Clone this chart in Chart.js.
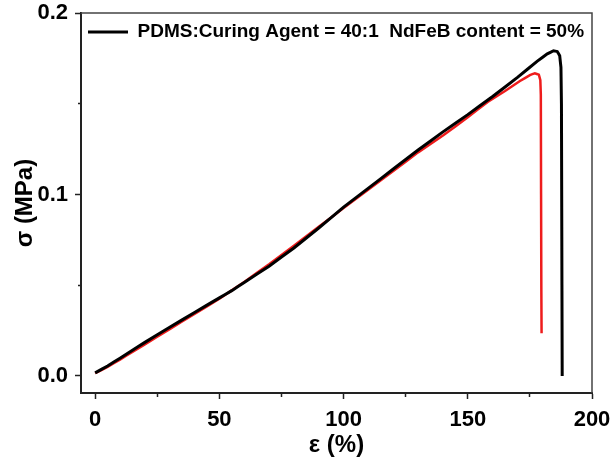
<!DOCTYPE html>
<html>
<head>
<meta charset="utf-8">
<script src="https://cdn.jsdelivr.net/npm/chart.js@4/dist/chart.umd.min.js"></script>
<style>
  html, body { margin: 0; padding: 0; background: #fff; }
  #wrap { width: 611px; height: 459px; }
</style>
</head>
<body>
<div id="wrap"><canvas id="c" width="611" height="459"></canvas></div>
<script>
// ---- data ----
const legendLabel = 'PDMS:Curing Agent = 40:1  NdFeB content = 50%';
const xTitle = 'ε (%)';
const yTitle = 'σ (MPa)';

const blackStrain = [0, 5, 10, 15, 20, 30, 40, 50, 55, 60, 70, 80, 90, 100, 110, 120, 130, 140, 150, 160, 170, 178, 182, 184.5, 186, 187, 187.5, 187.7, 187.8, 187.9, 188];
const blackStress = [0.0017, 0.0055, 0.0098, 0.0142, 0.0185, 0.0268, 0.0350, 0.0430, 0.0470, 0.0515, 0.0605, 0.0705, 0.0815, 0.0930, 0.1035, 0.1140, 0.1245, 0.1345, 0.1440, 0.1540, 0.1645, 0.1735, 0.1775, 0.1792, 0.1788, 0.1765, 0.1700, 0.1500, 0.1000, 0.0500, 0.0000];

const redStrain = [0, 5, 10, 15, 20, 30, 40, 50, 60, 70, 80, 90, 100, 110, 120, 130, 140, 150, 158, 165, 171, 175, 177, 178.6, 179.2, 179.4, 179.5, 179.6, 179.7];
const redStress = [0.0015, 0.0050, 0.0090, 0.0132, 0.0174, 0.0258, 0.0342, 0.0425, 0.0518, 0.0615, 0.0718, 0.0822, 0.0925, 0.1028, 0.1130, 0.1232, 0.1325, 0.1425, 0.1510, 0.1570, 0.1625, 0.1658, 0.1668, 0.1660, 0.1630, 0.1550, 0.1000, 0.0500, 0.0235];

const xMajorTicks = [0, 50, 100, 150, 200];
const xMinorTicks = [25, 75, 125, 175];
const yMajorTicks = [0, 0.1, 0.2];
const yMinorTicks = [0.05, 0.15];
const yTickLabels = ['0.0', '0.1', '0.2'];

// ---- build ----
const toPts = (xs, ys) => xs.map((x, i) => ({ x: x, y: ys[i] }));
const allX = xMajorTicks.concat(xMinorTicks).sort((a, b) => a - b);
const allY = yMajorTicks.concat(yMinorTicks).sort((a, b) => a - b);
const isMajor = (arr, v) => arr.some(t => Math.abs(t - v) < 1e-9);

const boxPlugin = {
  id: 'box',
  afterDraw(chart) {
    const a = chart.chartArea, ctx = chart.ctx;
    ctx.save();
    ctx.strokeStyle = '#444';
    ctx.lineWidth = 1.5;
    ctx.beginPath();
    ctx.moveTo(a.left, a.top);
    ctx.lineTo(a.right, a.top);
    ctx.lineTo(a.right, a.bottom);
    ctx.stroke();
    ctx.restore();
  }
};

const fam = '"Liberation Sans", Arial, sans-serif';
const tickFont = { family: fam, size: 22, weight: 'bold' };
const titleFont = { family: fam, size: 24, weight: 'bold' };
const noAutoPad = (s) => { s.paddingTop = 0; s.paddingBottom = 0; s.paddingLeft = 0; s.paddingRight = 0; };

new Chart(document.getElementById('c'), {
  type: 'scatter',
  data: {
    datasets: [
      { label: legendLabel, data: toPts(blackStrain, blackStress), showLine: true,
        borderColor: '#000', backgroundColor: '#000', borderWidth: 3, pointRadius: 0, tension: 0.001 },
      { label: 'sample 2', data: toPts(redStrain, redStress), showLine: true,
        borderColor: '#ee1c1c', backgroundColor: '#ee1c1c', borderWidth: 2.5, pointRadius: 0, tension: 0.001 }
    ]
  },
  options: {
    responsive: false,
    animation: false,
    events: [],
    layout: { padding: { left: 0, right: 19, top: 13, bottom: 0 } },
    plugins: {
      tooltip: { enabled: false },
      legend: {
        position: 'chartArea',
        align: 'start',
        title: { display: true, text: '', font: { family: fam, size: 10, lineHeight: 1 }, padding: { top: 5.5, bottom: 0 } },
        labels: {
          filter: (item) => item.datasetIndex === 0,
          usePointStyle: true,
          pointStyle: 'line',
          pointStyleWidth: 40,
          padding: 7,
          color: '#000',
          font: { family: fam, size: 19, weight: 'bold' }
        }
      }
    },
    scales: {
      x: {
        type: 'linear',
        min: -5.7, max: 200,
        afterBuildTicks: (s) => { s.ticks = allX.map(v => ({ value: v })); },
        afterFit: (s) => { s.height = 66; noAutoPad(s); },
        border: { display: true, color: '#222', width: 2 },
        grid: {
          drawOnChartArea: false, drawTicks: true, tickLength: 6,
          tickColor: '#222', tickWidth: 1.5,
          tickBorderDash: (ctx) => isMajor(xMajorTicks, ctx.tick.value) ? [] : [3, 20]
        },
        ticks: {
          color: '#000', font: tickFont, padding: 8, maxRotation: 0, autoSkip: false,
          callback: (v) => isMajor(xMajorTicks, v) ? String(v) : ''
        },
        title: { display: true, text: xTitle, color: '#000', font: titleFont, padding: { top: 0, bottom: -1 } }
      },
      y: {
        type: 'linear',
        min: -0.0094, max: 0.2,
        afterBuildTicks: (s) => { s.ticks = allY.map(v => ({ value: v })); },
        afterFit: (s) => { s.width = 81; noAutoPad(s); },
        border: { display: true, color: '#222', width: 2 },
        grid: {
          drawOnChartArea: false, drawTicks: true, tickLength: 6,
          tickColor: '#222', tickWidth: 1.5,
          tickBorderDash: (ctx) => isMajor(yMajorTicks, ctx.tick.value) ? [] : [3, 3],
          tickBorderDashOffset: (ctx) => isMajor(yMajorTicks, ctx.tick.value) ? 0 : 3
        },
        ticks: {
          color: '#000', font: tickFont, padding: 7, autoSkip: false,
          callback: (v) => { const i = yMajorTicks.findIndex(t => Math.abs(t - v) < 1e-9); return i >= 0 ? yTickLabels[i] : ''; }
        },
        title: { display: true, text: yTitle, color: '#000', font: titleFont, padding: { top: 10.5, bottom: 0 } }
      }
    }
  },
  plugins: [boxPlugin]
});
</script>
</body>
</html>
